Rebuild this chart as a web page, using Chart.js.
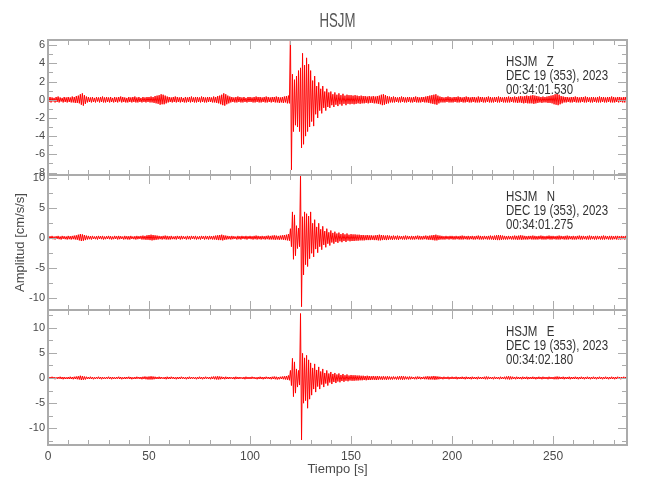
<!DOCTYPE html>
<html>
<head>
<meta charset="utf-8">
<title>HSJM</title>
<script src="https://cdn.jsdelivr.net/npm/chart.js@4.4.1/dist/chart.umd.min.js"></script>
<style>
  html, body { margin: 0; padding: 0; background: #fff; }
  #wrap { width: 650px; height: 500px; }
</style>
</head>
<body>
<div id="wrap"><canvas id="c"></canvas></div>
<script>
// seismogram peaks, one max/min pair per second (t = 0..286 s)
const zHi = [
  .2,.3,.25,.2,.3,.35,.25,.2,.3,.25, .3,.25,.35,.3,.4,.45,.6,.7,.5,.35,
  .3,.25,.3,.2,.3,.25,.3,.35,.25,.3, .25,.3,.2,.3,.25,.3,.35,.3,.25,.2,
  .3,.25,.3,.35,.25,.3,.2,.3,.25,.3, .3,.35,.3,.4,.45,.5,.6,.55,.45,.35,
  .3,.25,.3,.35,.3,.25,.3,.2,.3,.25, .3,.35,.25,.3,.3,.25,.35,.3,.25,.3,
  .3,.25,.35,.3,.4,.45,.55,.7,.6,.45, .35,.3,.25,.3,.35,.3,.25,.3,.2,.3,
  .3,.25,.3,.35,.3,.3,.25,.3,.35,.3, .25,.3,.3,.35,.3,.25,.3,.35,.4,.45,
  7.5,2.8,2.2,2.6,3.2,3.5,5.1,3.8,4.6,3.9, 3.2,2.1,2.6,1.5,1.9,1.2,1.5,.9,1.2,.8,
  .9,.6,.8,.55,.7,.5,.65,.45,.55,.5, .5,.45,.5,.45,.4,.45,.4,.4,.35,.4,
  .35,.4,.35,.4,.45,.55,.6,.5,.4,.35, .3,.35,.3,.25,.3,.35,.3,.25,.3,.3,
  .25,.3,.35,.3,.25,.3,.3,.35,.4,.45, .5,.55,.6,.45,.35,.3,.25,.3,.35,.3,
  .25,.3,.3,.35,.3,.25,.3,.35,.3,.25, .3,.3,.25,.35,.3,.3,.25,.3,.35,.3,
  .25,.3,.3,.35,.3,.25,.3,.3,.35,.3, .3,.35,.3,.35,.4,.35,.4,.45,.4,.45,
  .5,.45,.4,.35,.3,.35,.3,.35,.4,.45, .5,.6,.65,.55,.4,.35,.3,.3,.25,.3,
  .3,.35,.3,.25,.3,.3,.35,.3,.25,.3, .3,.25,.3,.35,.3,.3,.25,.3,.3,.35,
  .3,.25,.3,.3,.25,.3,.3
];
const zLo = [
  -.25,-.3,-.2,-.3,-.25,-.3,-.2,-.3,-.25,-.3, -.25,-.3,-.3,-.35,-.35,-.4,-.55,-.65,-.45,-.3,
  -.25,-.3,-.25,-.3,-.2,-.3,-.25,-.3,-.3,-.25, -.3,-.25,-.3,-.25,-.3,-.2,-.3,-.25,-.3,-.3,
  -.25,-.3,-.25,-.3,-.3,-.25,-.3,-.25,-.3,-.25, -.3,-.3,-.35,-.4,-.45,-.55,-.5,-.5,-.4,-.3,
  -.25,-.3,-.25,-.3,-.25,-.3,-.25,-.3,-.3,-.25, -.3,-.25,-.3,-.3,-.25,-.3,-.25,-.3,-.3,-.25,
  -.25,-.3,-.3,-.35,-.4,-.5,-.6,-.65,-.5,-.4, -.3,-.25,-.3,-.3,-.25,-.3,-.3,-.25,-.3,-.25,
  -.25,-.3,-.3,-.25,-.3,-.3,-.25,-.3,-.3,-.25, -.3,-.25,-.3,-.3,-.35,-.3,-.35,-.3,-.4,-.4,
  -7.7,-3.5,-2.8,-3.0,-3.5,-5.3,-4.9,-4.0,-3.5,-3.0, -2.4,-2.9,-1.6,-2.0,-1.2,-1.5,-.9,-1.2,-.8,-.9,
  -.6,-.8,-.55,-.7,-.5,-.65,-.45,-.6,-.45,-.5, -.45,-.5,-.45,-.4,-.45,-.4,-.4,-.35,-.4,-.35,
  -.35,-.4,-.4,-.45,-.5,-.6,-.55,-.45,-.4,-.3, -.3,-.3,-.25,-.3,-.3,-.25,-.3,-.3,-.25,-.3,
  -.3,-.25,-.3,-.3,-.3,-.25,-.3,-.3,-.35,-.4, -.45,-.5,-.55,-.4,-.3,-.3,-.3,-.25,-.3,-.3,
  -.3,-.25,-.3,-.3,-.25,-.3,-.3,-.25,-.3,-.3, -.25,-.3,-.3,-.3,-.25,-.3,-.3,-.25,-.3,-.3,
  -.3,-.25,-.3,-.3,-.25,-.3,-.3,-.3,-.3,-.25, -.3,-.3,-.35,-.3,-.35,-.4,-.35,-.4,-.4,-.4,
  -.45,-.4,-.35,-.3,-.35,-.3,-.3,-.35,-.35,-.4, -.5,-.55,-.6,-.5,-.4,-.3,-.3,-.25,-.3,-.3,
  -.25,-.3,-.3,-.3,-.25,-.3,-.3,-.25,-.3,-.3, -.25,-.3,-.3,-.3,-.25,-.3,-.3,-.25,-.3,-.3,
  -.3,-.25,-.3,-.25,-.3,-.3,-.25
];
const nHi = [
  .2,.25,.3,.2,.25,.3,.2,.3,.25,.2, .3,.25,.3,.35,.4,.5,.6,.55,.45,.35,
  .3,.25,.3,.2,.25,.3,.25,.3,.2,.25, .3,.25,.2,.3,.25,.3,.25,.2,.3,.25,
  .25,.3,.2,.25,.3,.25,.3,.35,.3,.4, .45,.5,.45,.4,.35,.3,.25,.3,.35,.3,
  .25,.3,.2,.25,.3,.25,.3,.25,.2,.3, .25,.3,.25,.3,.2,.25,.3,.25,.3,.25,
  .3,.25,.3,.35,.4,.45,.5,.4,.35,.3, .25,.3,.25,.2,.3,.25,.3,.25,.3,.25,
  .3,.25,.3,.35,.3,.25,.3,.25,.3,.35, .3,.35,.4,.35,.3,.35,.4,.45,.5,.6,
  1.5,4.3,3.8,2.0,1.6,10.5,3.5,4.3,4.0,3.6, 4.3,2.4,3.0,1.8,2.4,1.4,1.9,1.1,1.5,.9,
  1.2,.8,1.0,.7,.85,.6,.75,.55,.7,.5, .6,.55,.55,.5,.5,.45,.45,.4,.45,.4,
  .4,.35,.4,.45,.5,.45,.4,.35,.4,.35, .3,.35,.3,.35,.3,.25,.3,.35,.3,.25,
  .3,.25,.3,.35,.3,.25,.3,.35,.3,.35, .4,.45,.5,.4,.35,.3,.25,.3,.25,.3,
  .3,.25,.3,.25,.3,.35,.3,.25,.3,.25, .3,.25,.3,.35,.3,.25,.3,.25,.3,.35,
  .3,.35,.4,.45,.4,.35,.3,.25,.3,.25, .3,.35,.3,.35,.4,.35,.3,.25,.3,.3,
  .35,.3,.25,.3,.35,.3,.25,.3,.35,.3, .3,.25,.3,.35,.3,.25,.3,.35,.3,.25,
  .3,.25,.3,.35,.3,.3,.25,.3,.35,.3, .25,.3,.3,.25,.3,.35,.3,.25,.3,.3,
  .25,.3,.3,.25,.3,.25,.3
];
const nLo = [
  -.25,-.2,-.25,-.3,-.2,-.25,-.3,-.2,-.25,-.3, -.25,-.3,-.25,-.3,-.35,-.45,-.55,-.5,-.4,-.3,
  -.25,-.3,-.2,-.25,-.3,-.2,-.25,-.3,-.25,-.2, -.25,-.3,-.25,-.2,-.3,-.25,-.2,-.3,-.25,-.3,
  -.3,-.2,-.25,-.3,-.25,-.2,-.3,-.3,-.35,-.35, -.4,-.45,-.4,-.35,-.3,-.25,-.3,-.25,-.3,-.3,
  -.3,-.25,-.25,-.3,-.2,-.3,-.25,-.2,-.3,-.25, -.3,-.2,-.25,-.3,-.25,-.3,-.2,-.3,-.25,-.3,
  -.25,-.3,-.3,-.35,-.4,-.4,-.45,-.35,-.3,-.25, -.3,-.25,-.2,-.3,-.25,-.3,-.2,-.25,-.3,-.2,
  -.25,-.3,-.25,-.3,-.25,-.3,-.25,-.3,-.25,-.3, -.3,-.3,-.35,-.3,-.35,-.3,-.35,-.4,-.45,-.5,
  -1.5,-3.6,-3.0,-1.8,-1.5,-11.5,-6.2,-4.5,-4.8,-3.5, -2.6,-3.2,-1.9,-2.5,-1.5,-2.0,-1.2,-1.6,-1.0,-1.3,
  -.8,-1.0,-.7,-.85,-.6,-.75,-.55,-.7,-.5,-.6, -.55,-.55,-.5,-.5,-.45,-.45,-.45,-.4,-.4,-.4,
  -.35,-.4,-.4,-.45,-.45,-.4,-.35,-.4,-.35,-.3, -.35,-.3,-.3,-.35,-.25,-.3,-.3,-.3,-.25,-.3,
  -.3,-.3,-.25,-.3,-.3,-.3,-.25,-.3,-.35,-.35, -.4,-.45,-.45,-.35,-.3,-.3,-.3,-.25,-.3,-.25,
  -.3,-.3,-.25,-.3,-.3,-.3,-.25,-.3,-.3,-.25, -.3,-.3,-.25,-.3,-.3,-.3,-.25,-.3,-.3,-.3,
  -.35,-.35,-.4,-.4,-.35,-.3,-.3,-.3,-.25,-.3, -.3,-.3,-.35,-.3,-.35,-.3,-.3,-.3,-.25,-.3,
  -.3,-.3,-.3,-.25,-.3,-.3,-.3,-.25,-.3,-.3, -.25,-.3,-.3,-.3,-.25,-.3,-.3,-.3,-.25,-.3,
  -.3,-.3,-.25,-.3,-.3,-.25,-.3,-.3,-.3,-.25, -.3,-.3,-.25,-.3,-.3,-.3,-.25,-.3,-.3,-.3,
  -.25,-.3,-.3,-.3,-.25,-.3,-.3
];
const eHi = [
  .15,.2,.25,.2,.15,.2,.25,.2,.2,.15, .2,.25,.2,.25,.3,.35,.45,.4,.3,.25,
  .2,.25,.2,.15,.2,.25,.2,.2,.15,.2, .25,.2,.2,.15,.2,.25,.2,.15,.2,.2,
  .25,.2,.15,.2,.25,.2,.2,.25,.3,.25, .3,.35,.3,.25,.2,.25,.2,.15,.2,.25,
  .2,.25,.2,.15,.2,.2,.25,.2,.15,.2, .25,.2,.2,.15,.2,.25,.2,.2,.25,.2,
  .2,.25,.3,.3,.35,.3,.25,.2,.25,.2, .2,.15,.2,.25,.2,.2,.15,.2,.25,.2,
  .2,.25,.2,.15,.2,.25,.2,.2,.25,.2, .2,.25,.3,.25,.2,.25,.3,.35,.4,.5,
  1.5,3.9,3.2,1.8,1.5,12.8,4.9,4.0,4.5,3.6, 3.0,2.0,2.8,1.6,2.2,1.3,1.8,1.0,1.5,.9,
  1.2,.8,1.0,.7,.9,.6,.8,.55,.7,.5, .6,.55,.55,.5,.5,.45,.45,.4,.45,.4,
  .35,.4,.35,.4,.35,.3,.35,.3,.35,.3, .25,.3,.25,.3,.35,.4,.35,.3,.25,.3,
  .25,.2,.25,.3,.25,.2,.25,.3,.35,.3, .35,.4,.35,.3,.25,.2,.25,.2,.25,.2,
  .25,.2,.25,.2,.2,.25,.2,.25,.2,.2, .25,.2,.2,.25,.2,.2,.25,.3,.25,.2,
  .2,.25,.2,.2,.25,.2,.25,.3,.35,.3, .25,.2,.25,.2,.2,.25,.2,.25,.2,.2,
  .25,.2,.2,.25,.2,.25,.2,.2,.25,.2, .2,.25,.3,.25,.2,.25,.2,.2,.25,.2,
  .2,.25,.2,.2,.25,.2,.2,.25,.2,.2, .25,.2,.2,.25,.2,.2,.25,.2,.2,.25,
  .2,.2,.25,.2,.2,.25,.2
];
const eLo = [
  -.2,-.15,-.2,-.25,-.2,-.15,-.2,-.25,-.2,-.2, -.2,-.2,-.25,-.2,-.25,-.3,-.4,-.35,-.3,-.2,
  -.2,-.2,-.25,-.2,-.15,-.2,-.25,-.2,-.2,-.15, -.2,-.25,-.2,-.2,-.15,-.2,-.25,-.2,-.2,-.15,
  -.2,-.25,-.2,-.2,-.15,-.2,-.25,-.2,-.25,-.3, -.3,-.3,-.25,-.2,-.2,-.2,-.15,-.2,-.25,-.2,
  -.2,-.15,-.2,-.25,-.2,-.2,-.15,-.2,-.25,-.2, -.2,-.15,-.2,-.25,-.2,-.2,-.25,-.2,-.15,-.2,
  -.25,-.2,-.25,-.3,-.3,-.25,-.2,-.25,-.2,-.2, -.15,-.2,-.25,-.2,-.2,-.15,-.2,-.25,-.2,-.2,
  -.2,-.15,-.2,-.25,-.2,-.2,-.25,-.2,-.15,-.2, -.25,-.2,-.25,-.3,-.25,-.2,-.25,-.3,-.35,-.45,
  -1.5,-3.7,-3.0,-1.8,-1.4,-12.3,-5.0,-4.5,-6.0,-4.2, -3.4,-2.2,-2.8,-1.7,-2.2,-1.3,-1.8,-1.1,-1.5,-.9,
  -1.2,-.8,-1.0,-.7,-.85,-.6,-.75,-.55,-.65,-.5, -.55,-.55,-.5,-.5,-.45,-.45,-.4,-.45,-.4,-.4,
  -.35,-.35,-.4,-.35,-.3,-.35,-.3,-.35,-.3,-.3, -.3,-.25,-.3,-.3,-.3,-.35,-.3,-.25,-.3,-.25,
  -.2,-.25,-.25,-.2,-.25,-.2,-.25,-.25,-.3,-.3, -.3,-.35,-.3,-.25,-.2,-.25,-.2,-.2,-.25,-.2,
  -.2,-.2,-.25,-.2,-.2,-.2,-.25,-.2,-.2,-.25, -.2,-.2,-.25,-.2,-.2,-.2,-.25,-.25,-.2,-.2,
  -.25,-.2,-.2,-.25,-.2,-.2,-.25,-.25,-.3,-.25, -.2,-.25,-.2,-.2,-.25,-.2,-.2,-.25,-.2,-.2,
  -.2,-.25,-.2,-.2,-.25,-.2,-.2,-.25,-.2,-.2, -.25,-.25,-.25,-.2,-.2,-.25,-.2,-.2,-.25,-.2,
  -.2,-.2,-.25,-.2,-.2,-.25,-.2,-.2,-.25,-.2, -.2,-.25,-.2,-.2,-.25,-.2,-.2,-.25,-.2,-.2,
  -.25,-.2,-.2,-.25,-.2,-.2,-.25
];

const STEP = 1;           // seconds per max/min pair
const X_MAX = 286.6;
const xTicks = [0, 50, 100, 150, 200, 250];
const station = "HSJM";
const components = ["Z", "N", "E"];
const startTimes = ["00:34:01.530", "00:34:01.275", "00:34:02.180"];
const dateLine = "DEC 19 (353), 2023";
const yRanges = [[-8.27, 6.56], [-12.05, 10.45], [-13.3, 13.5]];
const yMajor = [2, 5, 5];
const yMinor = [1, 2.5, 2.5];

const FONT = "'Liberation Sans', Arial, sans-serif";
const AXIS = "#ababab";
const TEXT = "#4a4a4a";

const toPoints = (hi, lo) => {
  const pts = [];
  hi.forEach((v, i) => {
    pts.push({ x: i * STEP, y: v });
    pts.push({ x: i * STEP + STEP / 2, y: lo[i] });
  });
  return pts;
};

const traces = [toPoints(zHi, zLo), toPoints(nHi, nLo), toPoints(eHi, eLo)];
const axisIds = ["yZ", "yN", "yE"];

const datasets = traces.map((pts, k) => ({
  data: pts, yAxisID: axisIds[k], borderColor: "#ff0000", borderWidth: 1,
  pointRadius: 0, tension: 0,
}));

const yAxis = (k, extra) => Object.assign({
  type: "linear", position: "left", stack: "seis", stackWeight: 1,
  min: yRanges[k][0], max: yRanges[k][1],
  grid: { display: false, drawTicks: false }, border: { display: false },
  ticks: {
    stepSize: yMajor[k], includeBounds: false, autoSkip: false, padding: 3, color: TEXT,
    font: { family: FONT, size: 11 },
  },
  afterFit: (s) => { s.width = 48; },
}, extra);

// draw condensed text (the original uses a narrow plot font)
const narrowText = (ctx, str, x, y, size, sx, align) => {
  ctx.save();
  ctx.font = size + "px " + FONT;
  ctx.textAlign = align;
  ctx.textBaseline = "alphabetic";
  ctx.translate(x, y);
  ctx.scale(sx, 1);
  ctx.fillText(str, 0, 0);
  ctx.restore();
};

// panel frames, inward ticks, title and station labels
const frames = {
  id: "frames",
  afterDatasetsDraw(chart) {
    const { ctx } = chart;
    const x = chart.scales.x;
    ctx.save();
    ctx.fillStyle = "#555";
    narrowText(ctx, station, (x.left + x.right) / 2, 27, 20, 0.66, "center");
    axisIds.forEach((id, k) => {
      const y = chart.scales[id];
      const top = y.top, bot = y.bottom, l = x.left, r = x.right;
      ctx.strokeStyle = AXIS;
      ctx.lineWidth = 2;
      ctx.strokeRect(l, top, r - l, bot - top);
      ctx.lineWidth = 1;
      ctx.beginPath();
      for (let v = 0; v <= X_MAX; v += 10) {
        const px = Math.round(x.getPixelForValue(v)) + 0.5;
        const len = v % 50 === 0 ? 9 : 5;
        ctx.moveTo(px, top); ctx.lineTo(px, top + len);
        ctx.moveTo(px, bot); ctx.lineTo(px, bot - len);
      }
      const m = yMinor[k];
      for (let v = Math.ceil(y.min / m) * m; v <= y.max; v += m) {
        const py = Math.round(y.getPixelForValue(v)) + 0.5;
        const len = Math.abs(v / yMajor[k] - Math.round(v / yMajor[k])) < 1e-6 ? 9 : 5;
        ctx.moveTo(l, py); ctx.lineTo(l + len, py);
        ctx.moveTo(r, py); ctx.lineTo(r - len, py);
      }
      ctx.stroke();

      ctx.fillStyle = "#333";
      const tx = l + 458;
      narrowText(ctx, station + "   " + components[k], tx, top + 26, 14, 0.82, "left");
      narrowText(ctx, dateLine, tx, top + 40, 14, 0.82, "left");
      narrowText(ctx, startTimes[k], tx, top + 54, 14, 0.82, "left");
    });
    ctx.restore();
  },
};

new Chart(document.getElementById("c"), {
  type: "line",
  data: { datasets },
  plugins: [frames],
  options: {
    responsive: true,
    maintainAspectRatio: false,
    animation: false,
    events: [],
    layout: { padding: { left: 0, right: 23, top: 40, bottom: 0 } },
    plugins: {
      legend: { display: false },
      tooltip: { enabled: false },
    },
    scales: {
      x: {
        type: "linear", min: 0, max: X_MAX,
        grid: { display: false, drawTicks: false }, border: { display: false },
        afterBuildTicks: (s) => { s.ticks = xTicks.map((v) => ({ value: v })); },
        ticks: { autoSkip: false, maxRotation: 0, padding: 4, color: TEXT, font: { family: FONT, size: 12 } },
        title: {
          display: true, text: "Tiempo [s]", color: TEXT,
          font: { family: FONT, size: 13 }, padding: { top: 0, bottom: 23 },
        },
        afterFit: (s) => { s.height = 55; },
      },
      yE: yAxis(2),
      yN: yAxis(1, {
        title: {
          display: true, text: "Amplitud [cm/s/s]", color: TEXT,
          font: { family: FONT, size: 13 }, padding: { top: 13, bottom: 0 },
        },
      }),
      yZ: yAxis(0),
    },
  },
});
</script>
</body>
</html>
